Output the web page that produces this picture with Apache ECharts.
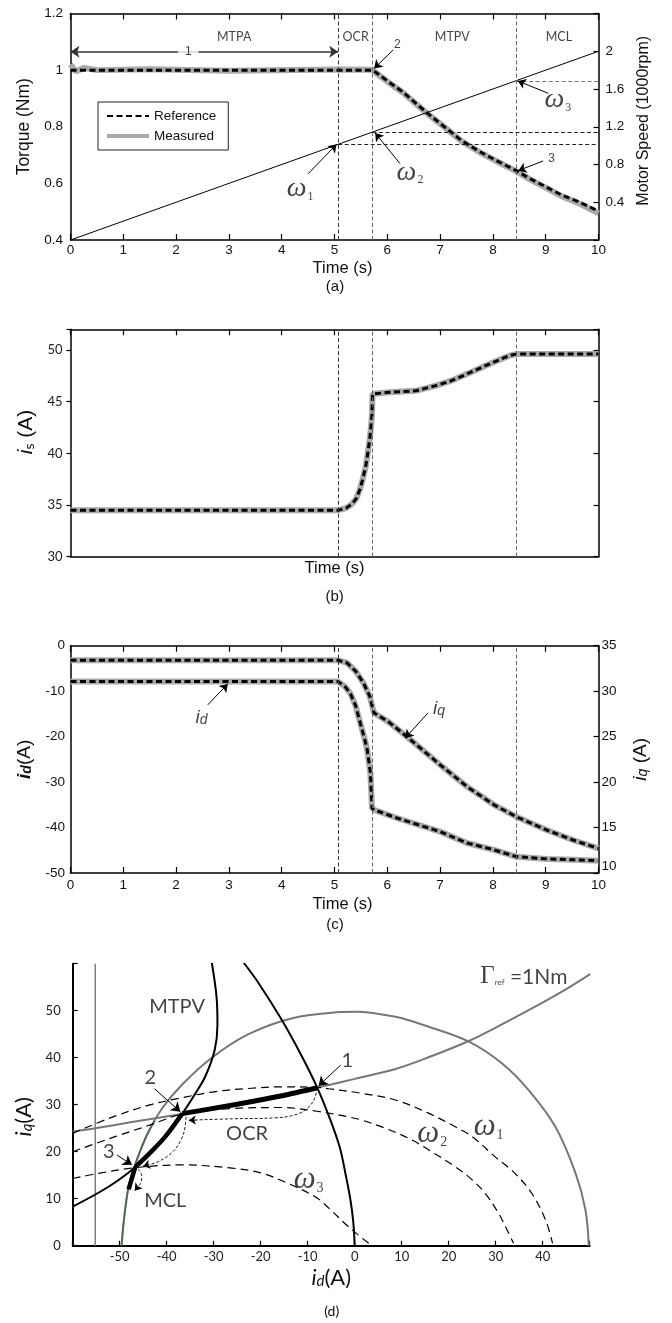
<!DOCTYPE html>
<html><head><meta charset="utf-8">
<script src="https://cdn.jsdelivr.net/npm/echarts@6/dist/echarts.min.js"></script>
<style>html,body{margin:0;padding:0;background:#fff}#c{width:672px;height:1323px}</style>
</head><body><div id="c"></div>
<script>
// ================= DATA =================
// Panel (a): torque and speed vs time
const torqueTime = [0, 5.07, 5.72, 5.8, 6.0, 6.3, 6.6, 6.8, 7.1, 7.4, 7.75, 8.05, 8.44, 8.7, 9.0, 9.3, 9.65, 10];
const torqueRef  = [1.0, 1.0, 1.0, 0.99, 0.962, 0.922, 0.873, 0.842, 0.797, 0.752, 0.712, 0.682, 0.645, 0.617, 0.588, 0.559, 0.533, 0.502];
const measTime   = [0, 0.1, 0.25, 0.5, 1.5, 3, 5.07, 5.72, 5.8, 6.0, 6.3, 6.6, 6.8, 7.1, 7.4, 7.75, 8.05, 8.44, 8.7, 9.0, 9.3, 9.65, 10];
const torqueMeas = [1.02, 0.995, 1.008, 1.0, 1.003, 0.998, 1.002, 1.001, 0.988, 0.96, 0.92, 0.872, 0.84, 0.796, 0.75, 0.71, 0.68, 0.643, 0.614, 0.585, 0.555, 0.528, 0.494];
const speedTime  = [0, 10];
const speedKrpm  = [0, 2.0];
const phaseTimes = [5.07, 5.72, 8.44];
const omegaLevels = [1.01, 1.14, 1.685];   // speed at omega1, omega2, omega3 (1000 rpm)

// Panel (b): stator current magnitude
const isTime = [0, 5.07, 5.22, 5.33, 5.41, 5.48, 5.53, 5.59, 5.63, 5.67, 5.69, 5.71, 5.72, 6.04, 6.54, 6.92, 7.2, 7.43, 7.65, 7.87, 8.1, 8.31, 8.44, 9.2, 10];
const isRef  = [34.5, 34.5, 34.7, 35.1, 35.6, 36.5, 37.4, 38.7, 40.0, 41.5, 42.5, 43.8, 45.75, 45.9, 46.05, 46.55, 47.0, 47.5, 48.0, 48.5, 49.0, 49.45, 49.6, 49.6, 49.6];

// Panel (c): d and q currents
const iqTime = [0, 5.07, 5.24, 5.4, 5.55, 5.67, 5.72, 5.75, 6.03, 6.37, 7.0, 7.51, 8.02, 8.44, 9.03, 9.53, 10];
const iqRef  = [33.4, 33.4, 33.1, 32.2, 30.9, 29.4, 28.2, 27.6, 26.6, 25.0, 21.9, 19.5, 17.5, 16.2, 14.7, 13.6, 12.7];
const idTime = [0, 5.07, 5.2, 5.3, 5.4, 5.49, 5.57, 5.62, 5.68, 5.71, 5.75, 6.18, 7.0, 7.51, 8.02, 8.44, 9.03, 9.53, 10];
const idRef  = [-7.9, -7.9, -9.0, -10.5, -13.2, -17.1, -20.5, -22.9, -28.0, -35.7, -36.1, -37.9, -40.9, -43.4, -44.9, -46.4, -46.9, -47.1, -47.3];

// Panel (d): id-iq plane, [id, iq] pairs
const currentLimit = [[-49.6,0],[-49.1,5.5],[-48.1,12.6],[-46.7,17.3],[-43.8,24.4],[-41,29.2],[-36.7,34.3],[-30.4,40],[-22.6,45],[-13.3,48.4],[-3.4,49.7],[0.1,49.8],[8.7,48.7],[15.7,46.6],[24.3,43.4],[31.3,38.8],[37,33.1],[42.7,25.3],[47,15.4],[49.1,7.6],[49.8,0]];
const currentLimitLow = [[-49.6,0],[-49.1,5.5],[-48.1,12.6],[-46.7,17.3],[-44.5,23],[-42.5,26.6]];
const torqueCurve = [[-60,24.3],[-55.2,25],[-47.4,26.3],[-36.7,28],[-25,29.9],[-15.5,31.7],[-8,33.6],[-5.5,34.2],[0,35.5],[8.7,37.6],[16,40.2],[23.9,43.4],[30,46.4],[37,50.1],[44,54],[50.1,57.8]];
const mtpaCurve = [[-23.6,60.2],[-20.4,55.8],[-15.5,48],[-11.2,40.2],[-8,33.7],[-5.5,27.6],[-3.2,21],[-1.9,15],[-0.9,9.7],[-0.3,5],[0,0]];
const mtpvCurve = [[-30.4,60.2],[-29.4,53],[-29.2,47],[-29.8,41.6],[-31.8,36],[-33.9,32.4],[-36.7,28.1],[-40.3,23.2],[-43.5,19.8],[-46.7,16.7],[-52.3,12.6],[-60,8.3]];
const omega1Curve = [[-60,23.9],[-52,27.2],[-43.8,29.9],[-36.7,31.5],[-29.6,32.8],[-22,33.5],[-15.5,33.8],[-8,33.7],[-5.5,33.4],[1.6,32.4],[8.7,31],[15.7,28.2],[21.4,25.3],[25,23.2],[29.9,18.9],[34.1,15.4],[37.7,11.1],[40.6,5.5],[42.1,0.5]];
const omega2Curve = [[-60,20],[-51,23.2],[-43.5,25.7],[-36.7,28],[-26.1,29.2],[-15.5,29.4],[-8,28.6],[-1.3,27.4],[1.6,26.7],[7,24.8],[12.2,22.5],[15.7,20.4],[21.4,16.8],[25,14],[27.8,11.1],[30.6,6.9],[32.1,4],[33.8,0.5]];
const omega3Curve = [[-60,14.3],[-54.5,15.4],[-46.7,16.6],[-36.7,17.2],[-26.1,16.5],[-20,15.5],[-14.5,13.4],[-8.4,10.4],[-5.5,8],[-1.3,4],[3,0.5]];
const idLimitLine = [[-55.2,0],[-55.2,60]];
const trajOCR  = [[-8,33.6],[-15.5,31.9],[-25,30.1],[-36.7,28.1]];
const trajMTPV = [[-36.7,28.1],[-40.3,23.2],[-43.5,19.8],[-46.7,16.7]];
const trajMCL  = [[-46.7,16.7],[-47.5,14],[-48.1,12]];
const pathOCR  = [[-8,33.6],[-8.5,31.4],[-10,29.3],[-12.5,27.9],[-17,27.2],[-26,27.0],[-35.3,26.7]];
const path23   = [[-35.9,27.4],[-36.1,25.2],[-36.9,22.6],[-38.8,19.9],[-41.8,17.9],[-45.0,16.9]];
const path3    = [[-46.1,16.3],[-45.3,14.8],[-45.6,13.2],[-46.8,11.7]];

// ================= ANNOTATION PLACEMENT (data coordinates) =================
const labelsA = [[3.1,1.118,'MTPA'],[5.4,1.118,'OCR'],[7.23,1.118,'MTPV'],[9.25,1.118,'MCL']];
const numsA = [[6.19,1.091,'2'],[9.11,0.687,'3']];
const omegaA = [[4.35,0.582,'1'],[6.43,0.639,'2'],[9.23,0.894,'3']];
const arrowsA = [[4.5,0.634,5.04,0.738],[6.24,0.67,5.77,0.778],[9.05,0.918,8.47,0.962],[6.11,1.071,5.75,1.006],[8.95,0.679,8.48,0.645]];
const spanArrowA = [0, 1.065, 5.07, 1.065];
const spanLabelA = [2.23, 1.065, '1'];
const labelsC = [[2.48,-15.9,'d'],[6.98,-13.9,'q']];
const arrowsC = [[2.6,-13,2.98,-8.4],[6.77,-14.8,6.34,-20.3]];
const labelsD = [[-14.2,60.1,'MTPA'],[-37.8,50.9,'MTPV'],[-43.5,35.7,'2'],[-52.3,20,'3'],[-1.6,39.5,'1'],[-22.9,23.9,'OCR'],[-40.3,9.7,'MCL']];
const omegaD = [[28.5,25.3,'1'],[16.5,23.9,'2'],[-9.8,14,'3']];
const gammaD = [36,57.2];
const arrowsD = [[-42.6,33.4,-37.1,28.5],[-50.6,19.3,-47.4,17.2],[-3,38.4,-7.7,34]];

// ================= CHART =================
const SANS = '"Liberation Sans", Arial, sans-serif';
const CAL = 'Lato, "Open Sans", sans-serif';
const SERIF = '"Liberation Serif", "DejaVu Serif", serif';
const chart = echarts.init(document.getElementById('c'));

function merge(a, b) {
  const out = Array.isArray(a) ? a.slice() : Object.assign({}, a);
  for (const k in (b || {})) {
    if (b[k] && typeof b[k] === 'object' && !Array.isArray(b[k]) && typeof b[k] !== 'function' && a[k] && typeof a[k] === 'object' && !Array.isArray(a[k])) out[k] = merge(a[k], b[k]);
    else out[k] = b[k];
  }
  return out;
}
const zipXY = (xs, ys) => xs.map((x, i) => [x, ys[i]]);

const baseAxis = {
  type: 'value', splitLine: {show: false},
  axisLine: {show: true, onZero: false, lineStyle: {color: '#000', width: 1.5}},
  axisTick: {show: true, inside: true, length: 6, lineStyle: {color: '#000', width: 1.2}},
  axisLabel: {show: false, color: '#111', fontFamily: SANS, fontSize: 13.5},
  nameTextStyle: {color: '#111', fontFamily: SANS, fontSize: 16.5}
};
function tAx(g, pos, extra) { return merge(merge(baseAxis, {gridIndex: g, position: pos, min: 0, max: 10, interval: 1}), extra || {}); }
function yAx(g, pos, min, max, iv, extra) { return merge(merge(baseAxis, {gridIndex: g, position: pos, min: min, max: max, interval: iv}), extra || {}); }

const xAxis = [
  tAx(0, 'bottom', {axisLabel: {show: true, margin: 3}, name: 'Time (s)', nameLocation: 'middle', nameGap: 20, nameTextStyle: {padding: [0, 0, 0, 16]}}),
  tAx(0, 'top'),
  tAx(1, 'bottom', {axisTick: {show: false}, name: 'Time (s)', nameLocation: 'middle', nameGap: 3.5}),
  tAx(1, 'top'),
  tAx(2, 'bottom', {axisLabel: {show: true, margin: 5.5}, name: 'Time (s)', nameLocation: 'middle', nameGap: 22.5, nameTextStyle: {padding: [0, 0, 0, 16]}}),
  tAx(2, 'top'),
  merge(baseAxis, {gridIndex: 3, position: 'bottom', min: -60, max: 50, interval: 10,
    axisLine: {lineStyle: {width: 2}}, axisTick: {length: 5},
    axisLabel: {show: true, margin: 5, fontFamily: CAL, fontSize: 13, color: '#222', formatter: v => (v <= -60 || v >= 50) ? '' : String(v)},
    name: '{i|i}{s|d}{a|(A)}', nameLocation: 'middle', nameGap: 21,
    nameTextStyle: {rich: {
      i: {fontFamily: CAL, fontStyle: 'italic', fontSize: 22, color: '#111'},
      s: {fontFamily: CAL, fontStyle: 'italic', fontSize: 15, color: '#111', verticalAlign: 'bottom'},
      a: {fontFamily: CAL, fontSize: 22, color: '#111'}}}})
];

const fmt1 = v => String(+v.toFixed(1));
const yAxis = [
  yAx(0, 'left', 0.4, 1.2, 0.2, {axisTick: {show: false}, axisLabel: {show: true, margin: 7.5, formatter: fmt1},
    name: 'Torque (Nm)', nameLocation: 'middle', nameGap: 37, nameTextStyle: {fontSize: 17.5}}),
  yAx(0, 'right', 0, 2.4, 0.4, {axisTick: {length: 5}, axisLabel: {show: true, margin: 7, formatter: v => (v < 0.2 || v > 2.2) ? '' : fmt1(v)},
    name: 'Motor Speed (1000rpm)', nameLocation: 'middle', nameGap: 31.5, nameTextStyle: {fontSize: 16, padding: [0, 0, 0, 12]}}),
  yAx(1, 'left', 30, 52, 5, {axisTick: {inside: false, length: 4}, axisLabel: {show: true, margin: 8, fontFamily: CAL, fontSize: 13, color: '#222', formatter: v => (v % 5 === 0) ? String(v) : ''},
    name: '{i|i}{s|s}{a| (A)}', nameLocation: 'middle', nameGap: 33,
    nameTextStyle: {padding: [0, 0, 0, 22], rich: {
      i: {fontFamily: SANS, fontStyle: 'italic', fontSize: 21, color: '#111'},
      s: {fontFamily: CAL, fontSize: 14, color: '#111', verticalAlign: 'bottom'},
      a: {fontFamily: SANS, fontSize: 21, color: '#111'}}}}),
  yAx(1, 'right', 30, 52, 5, {axisTick: {length: 5}}),
  yAx(2, 'left', -50, 0, 10, {axisTick: {show: false}, axisLabel: {show: true, margin: 5.5},
    name: '{i|i}{s|d}{a|(A)}', nameLocation: 'middle', nameGap: 31.5,
    nameTextStyle: {rich: {
      i: {fontFamily: SANS, fontStyle: 'italic', fontWeight: 'bold', fontSize: 19, color: '#111'},
      s: {fontFamily: SANS, fontStyle: 'italic', fontWeight: 'bold', fontSize: 14, color: '#111', verticalAlign: 'bottom'},
      a: {fontFamily: SANS, fontSize: 19, color: '#111'}}}}),
  yAx(2, 'right', 10, 35, 5, {axisTick: {length: 5}, axisLabel: {show: true, margin: 3,
      formatter: v => v === 10 ? '{lo|10}' : String(v), rich: {lo: {fontFamily: SANS, fontSize: 13.5, color: '#111', padding: [0, 0, 13, 0]}}},
    name: '{i|i}{s|q}{a| (A)}', nameLocation: 'middle', nameGap: 32.5,
    nameTextStyle: {rich: {
      i: {fontFamily: SANS, fontStyle: 'italic', fontSize: 19, color: '#111'},
      s: {fontFamily: SANS, fontStyle: 'italic', fontSize: 14, color: '#111', verticalAlign: 'bottom'},
      a: {fontFamily: SANS, fontSize: 19, color: '#111'}}}}),
  merge(baseAxis, {gridIndex: 3, position: 'left', min: 0, max: 60, interval: 10,
    axisLine: {lineStyle: {width: 2}}, axisTick: {length: 5},
    axisLabel: {show: true, margin: 12, fontFamily: CAL, fontSize: 13, color: '#222', formatter: v => v >= 60 ? '' : String(v)},
    name: '{i|i}{s|q}{a|(A)}', nameLocation: 'middle', nameGap: 35,
    nameTextStyle: {padding: [0, 24, 0, 0], rich: {
      i: {fontFamily: CAL, fontStyle: 'italic', fontSize: 22, color: '#111'},
      s: {fontFamily: CAL, fontStyle: 'italic', fontSize: 15, color: '#111', verticalAlign: 'bottom'},
      a: {fontFamily: CAL, fontSize: 22, color: '#111'}}}})
];

const grid = [
  {left: 70.5, top: 13.5, width: 528, height: 226.5, outerBoundsMode: 'none'},
  {left: 70.5, top: 329.3, width: 528, height: 227.4, outerBoundsMode: 'none'},
  {left: 70.5, top: 645.7, width: 528, height: 227.3, outerBoundsMode: 'none'},
  {left: 72.7, top: 963.7, width: 517, height: 282, outerBoundsMode: 'none'}
];

const REF_STYLE = {color: '#000', width: 3, type: [6, 3.5]};
const MEAS_STYLE = {color: '#a9a9a9', width: 6};
function lineS(name, xi, yi, data, style, extra) {
  return merge({type: 'line', name: name, xAxisIndex: xi, yAxisIndex: yi, data: data, symbol: 'none', silent: true,
    lineStyle: style, itemStyle: {color: style.color}, animation: false}, extra || {});
}
function phaseMarks() {
  return {silent: true, symbol: 'none', label: {show: false},
    data: phaseTimes.map((t, i) => ({xAxis: t, lineStyle: {color: i === 0 ? '#333' : '#666', width: 1, type: [4, 2.5]}}))};
}
function arrowSeries(xi, yi, segs, opts) {
  opts = opts || {};
  return {type: 'lines', coordinateSystem: 'cartesian2d', xAxisIndex: xi, yAxisIndex: yi, silent: true, animation: false, z: 6,
    symbol: opts.symbol || ['none', 'arrow'], symbolSize: opts.size || 8,
    lineStyle: {color: opts.color || '#000', width: opts.width || 1, opacity: 1, curveness: 0, type: opts.type || 'solid'},
    data: segs.map(s => ({coords: [[s[0], s[1]], [s[2], s[3]]]}))};
}
function textSeries(xi, yi, items) {
  return {type: 'scatter', xAxisIndex: xi, yAxisIndex: yi, symbolSize: 0, silent: true, animation: false, z: 8,
    data: items.map(it => ({value: [it.x, it.y], label: merge({show: true, position: 'inside', align: 'center', verticalAlign: 'middle', color: '#111'}, it.label)}))};
}
const omegaLabel = (sub, size, subSize) => ({formatter: '{w|ω}{s|' + sub + '}', rich: {
  w: {fontFamily: SERIF, fontStyle: 'italic', fontSize: size, color: '#111'},
  s: {fontFamily: SERIF, fontSize: subSize, color: '#111', verticalAlign: 'bottom', padding: [0, 0, 0, 1]}}});
function tailSeg(path, frac) {
  const n = path.length, a = path[n - 2], b = path[n - 1];
  return [a[0] + (b[0] - a[0]) * frac, a[1] + (b[1] - a[1]) * frac, b[0], b[1]];
}

const series = [
  // ---- (a)
  lineS('Measured', 0, 0, zipXY(measTime, torqueMeas), MEAS_STYLE),
  lineS('Reference', 0, 0, zipXY(torqueTime, torqueRef), REF_STYLE, {z: 3, markLine: phaseMarks()}),
  lineS('speed', 0, 1, zipXY(speedTime, speedKrpm), {color: '#000', width: 1}),
  arrowSeries(0, 1, [[phaseTimes[0], omegaLevels[0], 10, omegaLevels[0]], [phaseTimes[1], omegaLevels[1], 10, omegaLevels[1]]], {symbol: 'none', type: [4, 2.5], color: '#222'}),
  arrowSeries(0, 1, [[phaseTimes[2], omegaLevels[2], 10, omegaLevels[2]]], {symbol: 'none', type: [4, 2.5], color: '#777'}),
  arrowSeries(0, 0, arrowsA, {size: 8}),
  arrowSeries(0, 0, [spanArrowA], {symbol: ['arrow', 'arrow'], size: 9, color: '#333', width: 1.5}),
  textSeries(0, 0, [
    ...labelsA.map(l => ({x: l[0], y: l[1], label: {formatter: l[2], fontFamily: CAL, fontSize: 12.5, color: '#111'}})),
    ...numsA.map(l => ({x: l[0], y: l[1], label: {formatter: l[2], fontFamily: SANS, fontSize: 12, color: '#111'}})),
    {x: spanLabelA[0], y: spanLabelA[1], label: {formatter: spanLabelA[2], fontFamily: SANS, fontSize: 12, color: '#111', backgroundColor: '#fff', padding: [0, 7]}},
    ...omegaA.map(l => ({x: l[0], y: l[1], label: omegaLabel(l[2], 28, 12)}))
  ]),
  // ---- (b)
  lineS('is meas', 2, 2, zipXY(isTime, isRef), MEAS_STYLE),
  lineS('is ref', 2, 2, zipXY(isTime, isRef), REF_STYLE, {z: 3, markLine: phaseMarks()}),
  // ---- (c)
  lineS('iq meas', 4, 5, zipXY(iqTime, iqRef), MEAS_STYLE),
  lineS('id meas', 4, 4, zipXY(idTime, idRef), MEAS_STYLE),
  lineS('iq ref', 4, 5, zipXY(iqTime, iqRef), REF_STYLE, {z: 3}),
  lineS('id ref', 4, 4, zipXY(idTime, idRef), REF_STYLE, {z: 3, markLine: phaseMarks()}),
  arrowSeries(4, 4, arrowsC, {size: 8}),
  textSeries(4, 4, labelsC.map(l => ({x: l[0], y: l[1], label: {formatter: '{i|i}{s|' + l[2] + '}', rich: {
    i: {fontFamily: SANS, fontStyle: 'italic', fontSize: 19, color: '#111'},
    s: {fontFamily: SANS, fontStyle: 'italic', fontSize: 14, color: '#111', verticalAlign: 'bottom'}}}}))),
  // ---- (d)
  lineS('idlim', 6, 6, idLimitLine, {color: '#808080', width: 1.5}),
  lineS('circle', 6, 6, currentLimit, {color: '#777', width: 2}, {smooth: 0.35}),
  lineS('circleLow', 6, 6, currentLimitLow, {color: '#4d6a4d', width: 1.6}, {smooth: 0.35}),
  lineS('torque', 6, 6, torqueCurve, {color: '#777', width: 2}, {smooth: 0.35}),
  lineS('mtpa', 6, 6, mtpaCurve, {color: '#000', width: 2}, {smooth: 0.35}),
  lineS('mtpv', 6, 6, mtpvCurve, {color: '#000', width: 2}, {smooth: 0.35}),
  lineS('w1', 6, 6, omega1Curve, {color: '#000', width: 1.2, type: [8, 5]}, {smooth: 0.35}),
  lineS('w2', 6, 6, omega2Curve, {color: '#000', width: 1.2, type: [8, 5]}, {smooth: 0.35}),
  lineS('w3', 6, 6, omega3Curve, {color: '#000', width: 1.2, type: [8, 5]}, {smooth: 0.35}),
  lineS('pOCR', 6, 6, pathOCR, {color: '#000', width: 0.9, type: [3, 2]}, {smooth: 0.4}),
  lineS('p23', 6, 6, path23, {color: '#000', width: 0.9, type: [3, 2]}, {smooth: 0.4}),
  lineS('p3', 6, 6, path3, {color: '#000', width: 0.9, type: [3, 2]}, {smooth: 0.4}),
  lineS('tOCR', 6, 6, trajOCR, {color: '#000', width: 5}, {smooth: 0.3, z: 4}),
  lineS('tMTPV', 6, 6, trajMTPV, {color: '#000', width: 4.5}, {smooth: 0.3, z: 4}),
  lineS('tMCL', 6, 6, trajMCL, {color: '#000', width: 4.5}, {smooth: 0.3, z: 4}),
  arrowSeries(6, 6, [tailSeg(pathOCR, 0.85), tailSeg(path23, 0.7), tailSeg(path3, 0.6)], {size: 7, width: 0.9}),
  arrowSeries(6, 6, arrowsD, {size: 9}),
  textSeries(6, 6, [
    ...labelsD.map(l => ({x: l[0], y: l[1], label: {formatter: l[2], fontFamily: CAL, fontSize: 20, color: '#111'}})),
    ...omegaD.map(l => ({x: l[0], y: l[1], label: omegaLabel(l[2], 31, 14)})),
    {x: gammaD[0], y: gammaD[1], label: {formatter: '{g|Γ}{r|ref}{t| =1Nm}', rich: {
      g: {fontFamily: SERIF, fontSize: 25, color: '#111'},
      r: {fontFamily: CAL, fontSize: 8, color: '#111', verticalAlign: 'bottom', padding: [0, 0, 3, 0]},
      t: {fontFamily: CAL, fontSize: 21, color: '#111'}}}}
  ])
];

chart.setOption({
  animation: false,
  backgroundColor: '#fff',
  grid: grid, xAxis: xAxis, yAxis: yAxis, series: series,
  legend: {data: [{name: 'Reference'}, {name: 'Measured', lineStyle: {width: 4}}], orient: 'vertical', left: 98, top: 102,
    itemWidth: 42, itemHeight: 12, itemGap: 6, padding: [7, 12, 7, 7], borderColor: '#222', borderWidth: 1,
    itemStyle: {opacity: 0},
    backgroundColor: '#fff', selectedMode: false, textStyle: {fontFamily: SANS, fontSize: 13.5, color: '#111'}},
  graphic: [
    {type: 'text', x: 335, y: 287.3, style: {text: '(a)', fontFamily: SANS, fontSize: 15, fill: '#111', align: 'center', verticalAlign: 'middle'}},
    {type: 'text', x: 334.7, y: 596.7, style: {text: '(b)', fontFamily: SANS, fontSize: 15, fill: '#111', align: 'center', verticalAlign: 'middle'}},
    {type: 'text', x: 335, y: 925, style: {text: '(c)', fontFamily: SANS, fontSize: 15, fill: '#111', align: 'center', verticalAlign: 'middle'}},
    {type: 'text', x: 331.7, y: 1311.7, style: {text: '(d)', fontFamily: CAL, fontSize: 14, fill: '#111', align: 'center', verticalAlign: 'middle'}}
  ]
});
</script></body></html>
